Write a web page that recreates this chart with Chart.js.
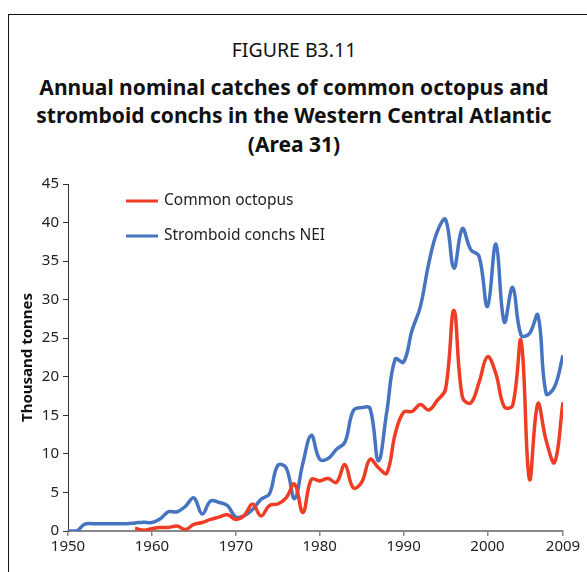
<!DOCTYPE html>
<html>
<head>
<meta charset="utf-8">
<script src="https://cdn.jsdelivr.net/npm/chart.js@4/dist/chart.umd.min.js"></script>
<style>
    html, body { margin: 0; padding: 0; background: #fff; overflow: hidden; }
    #wrap { position: relative; width: 587px; height: 572px; }
    #frame { position: absolute; left: 8px; top: 14px; width: 700px; height: 700px;
             border-left: 1.5px solid #111; border-top: 1.5px solid #111; }
    canvas { position: absolute; left: 0; top: 0; }
    .t { position: absolute; left: 0; width: 588px; text-align: center; line-height: 30px;
         font-family: "Noto Sans", "Open Sans", sans-serif; color: #111; white-space: nowrap; }
    .t1 { font-size: 19.5px; font-weight: normal; top: 35px; }
    .t2 { font-size: 21px; font-weight: bold; }
</style>
</head>
<body>
<div id="wrap">
    <div id="frame"></div>
    <div class="t t1">FIGURE B3.11</div>
    <div class="t t2" style="top:72px">Annual nominal catches of common octopus and</div>
    <div class="t t2" style="top:100px">stromboid conchs in the Western Central Atlantic</div>
    <div class="t t2" style="top:129px">(Area 31)</div>
    <canvas id="chart" width="587" height="572"></canvas>
</div>
<script>
// years 1950..2009
const years = Array.from({length: 60}, (_, i) => 1950 + i);
const xTicks = [1950, 1960, 1970, 1980, 1990, 2000, 2009];

// thousand tonnes
const octopus = [
    null, null, null, null, null, null, null, null, 0.35, 0.1,
    0.3, 0.45, 0.45, 0.65, 0.2, 0.85, 1.1, 1.5, 1.8, 2.1,
    1.5, 2.0, 3.5, 1.95, 3.3, 3.5, 4.3, 6.1, 2.4, 6.7,
    6.5, 6.8, 6.3, 8.6, 5.6, 6.3, 9.3, 8.2, 7.5, 12.6,
    15.4, 15.5, 16.4, 15.7, 16.9, 18.4, 28.6, 17.4, 16.6, 19.3,
    22.6, 20.4, 16.1, 16.3, 24.7, 6.7, 16.5, 11.7, 8.9, 16.7
];
const conchs = [
    0, 0, 0.9, 0.95, 0.95, 0.95, 0.95, 0.95, 1.05, 1.15,
    1.1, 1.6, 2.5, 2.5, 3.2, 4.3, 2.2, 3.9, 3.7, 3.3,
    1.8, 2.0, 2.8, 4.1, 4.8, 8.5, 8.2, 4.2, 8.8, 12.4,
    9.3, 9.4, 10.6, 11.5, 15.6, 16.0, 15.9, 9.1, 15.5, 22.3,
    21.9, 26.0, 29.1, 34.7, 38.8, 40.4, 34.1, 39.2, 36.5, 35.6,
    29.1, 37.2, 27.1, 31.6, 25.4, 25.6, 28.0, 17.8, 18.7, 22.8
];

const FONT = '"Noto Sans", "Open Sans", sans-serif';
const RED = '#EE3D24';
const BLUE = '#4674C1';

function toPoints(values) {
    return years.map((y, i) => ({x: y, y: values[i]}));
}

// legend drawn inside the plot, top left
const insideLegend = {
    id: 'insideLegend',
    afterDraw(chart) {
        const ctx = chart.ctx;
        const rows = [[RED, 'Common octopus', 201], [BLUE, 'Stromboid conchs NEI', 236]];
        ctx.save();
        ctx.font = '15.5px ' + FONT;
        ctx.textBaseline = 'middle';
        rows.forEach(r => {
            ctx.strokeStyle = r[0];
            ctx.lineWidth = 3;
            ctx.beginPath();
            ctx.moveTo(126, r[2]);
            ctx.lineTo(158, r[2]);
            ctx.stroke();
            ctx.fillStyle = '#222';
            ctx.fillText(r[1], 164, r[2]);
        });
        ctx.restore();
    }
};

new Chart(document.getElementById('chart'), {
    type: 'line',
    data: {
        datasets: [{
            label: 'Common octopus',
            data: toPoints(octopus),
            borderColor: RED,
            borderWidth: 3.5,
            pointRadius: 0,
            tension: 0.4,
            spanGaps: false
        }, {
            label: 'Stromboid conchs NEI',
            data: toPoints(conchs),
            borderColor: BLUE,
            borderWidth: 3.5,
            pointRadius: 0,
            tension: 0.4
        }]
    },
    options: {
        responsive: false,
        animation: false,
        layout: {padding: {left: 0, right: 24, top: 184, bottom: 14}},
        plugins: {
            legend: {display: false},
            tooltip: {enabled: false}
        },
        scales: {
            x: {
                type: 'linear',
                min: 1950,
                max: 2009,
                afterBuildTicks: scale => { scale.ticks = xTicks.map(v => ({value: v})); },
                ticks: {
                    color: '#222',
                    font: {family: FONT, size: 15},
                    padding: 2,
                    maxRotation: 0,
                    callback: v => String(v)
                },
                grid: {drawOnChartArea: false, tickLength: 5, color: '#888', lineWidth: 1.5},
                border: {color: '#888', width: 2}
            },
            y: {
                min: 0,
                max: 45,
                afterFit: scale => { scale.width = 68; },
                ticks: {
                    stepSize: 5,
                    color: '#222',
                    font: {family: FONT, size: 15},
                    padding: 4
                },
                title: {
                    display: true,
                    text: 'Thousand tonnes',
                    color: '#111',
                    font: {family: FONT, size: 15, weight: 'bold'},
                    padding: {top: 19, bottom: 0}
                },
                grid: {drawOnChartArea: false, tickLength: 5, color: '#333'},
                border: {color: '#333', width: 1}
            }
        }
    },
    plugins: [insideLegend]
});
</script>
</body>
</html>
